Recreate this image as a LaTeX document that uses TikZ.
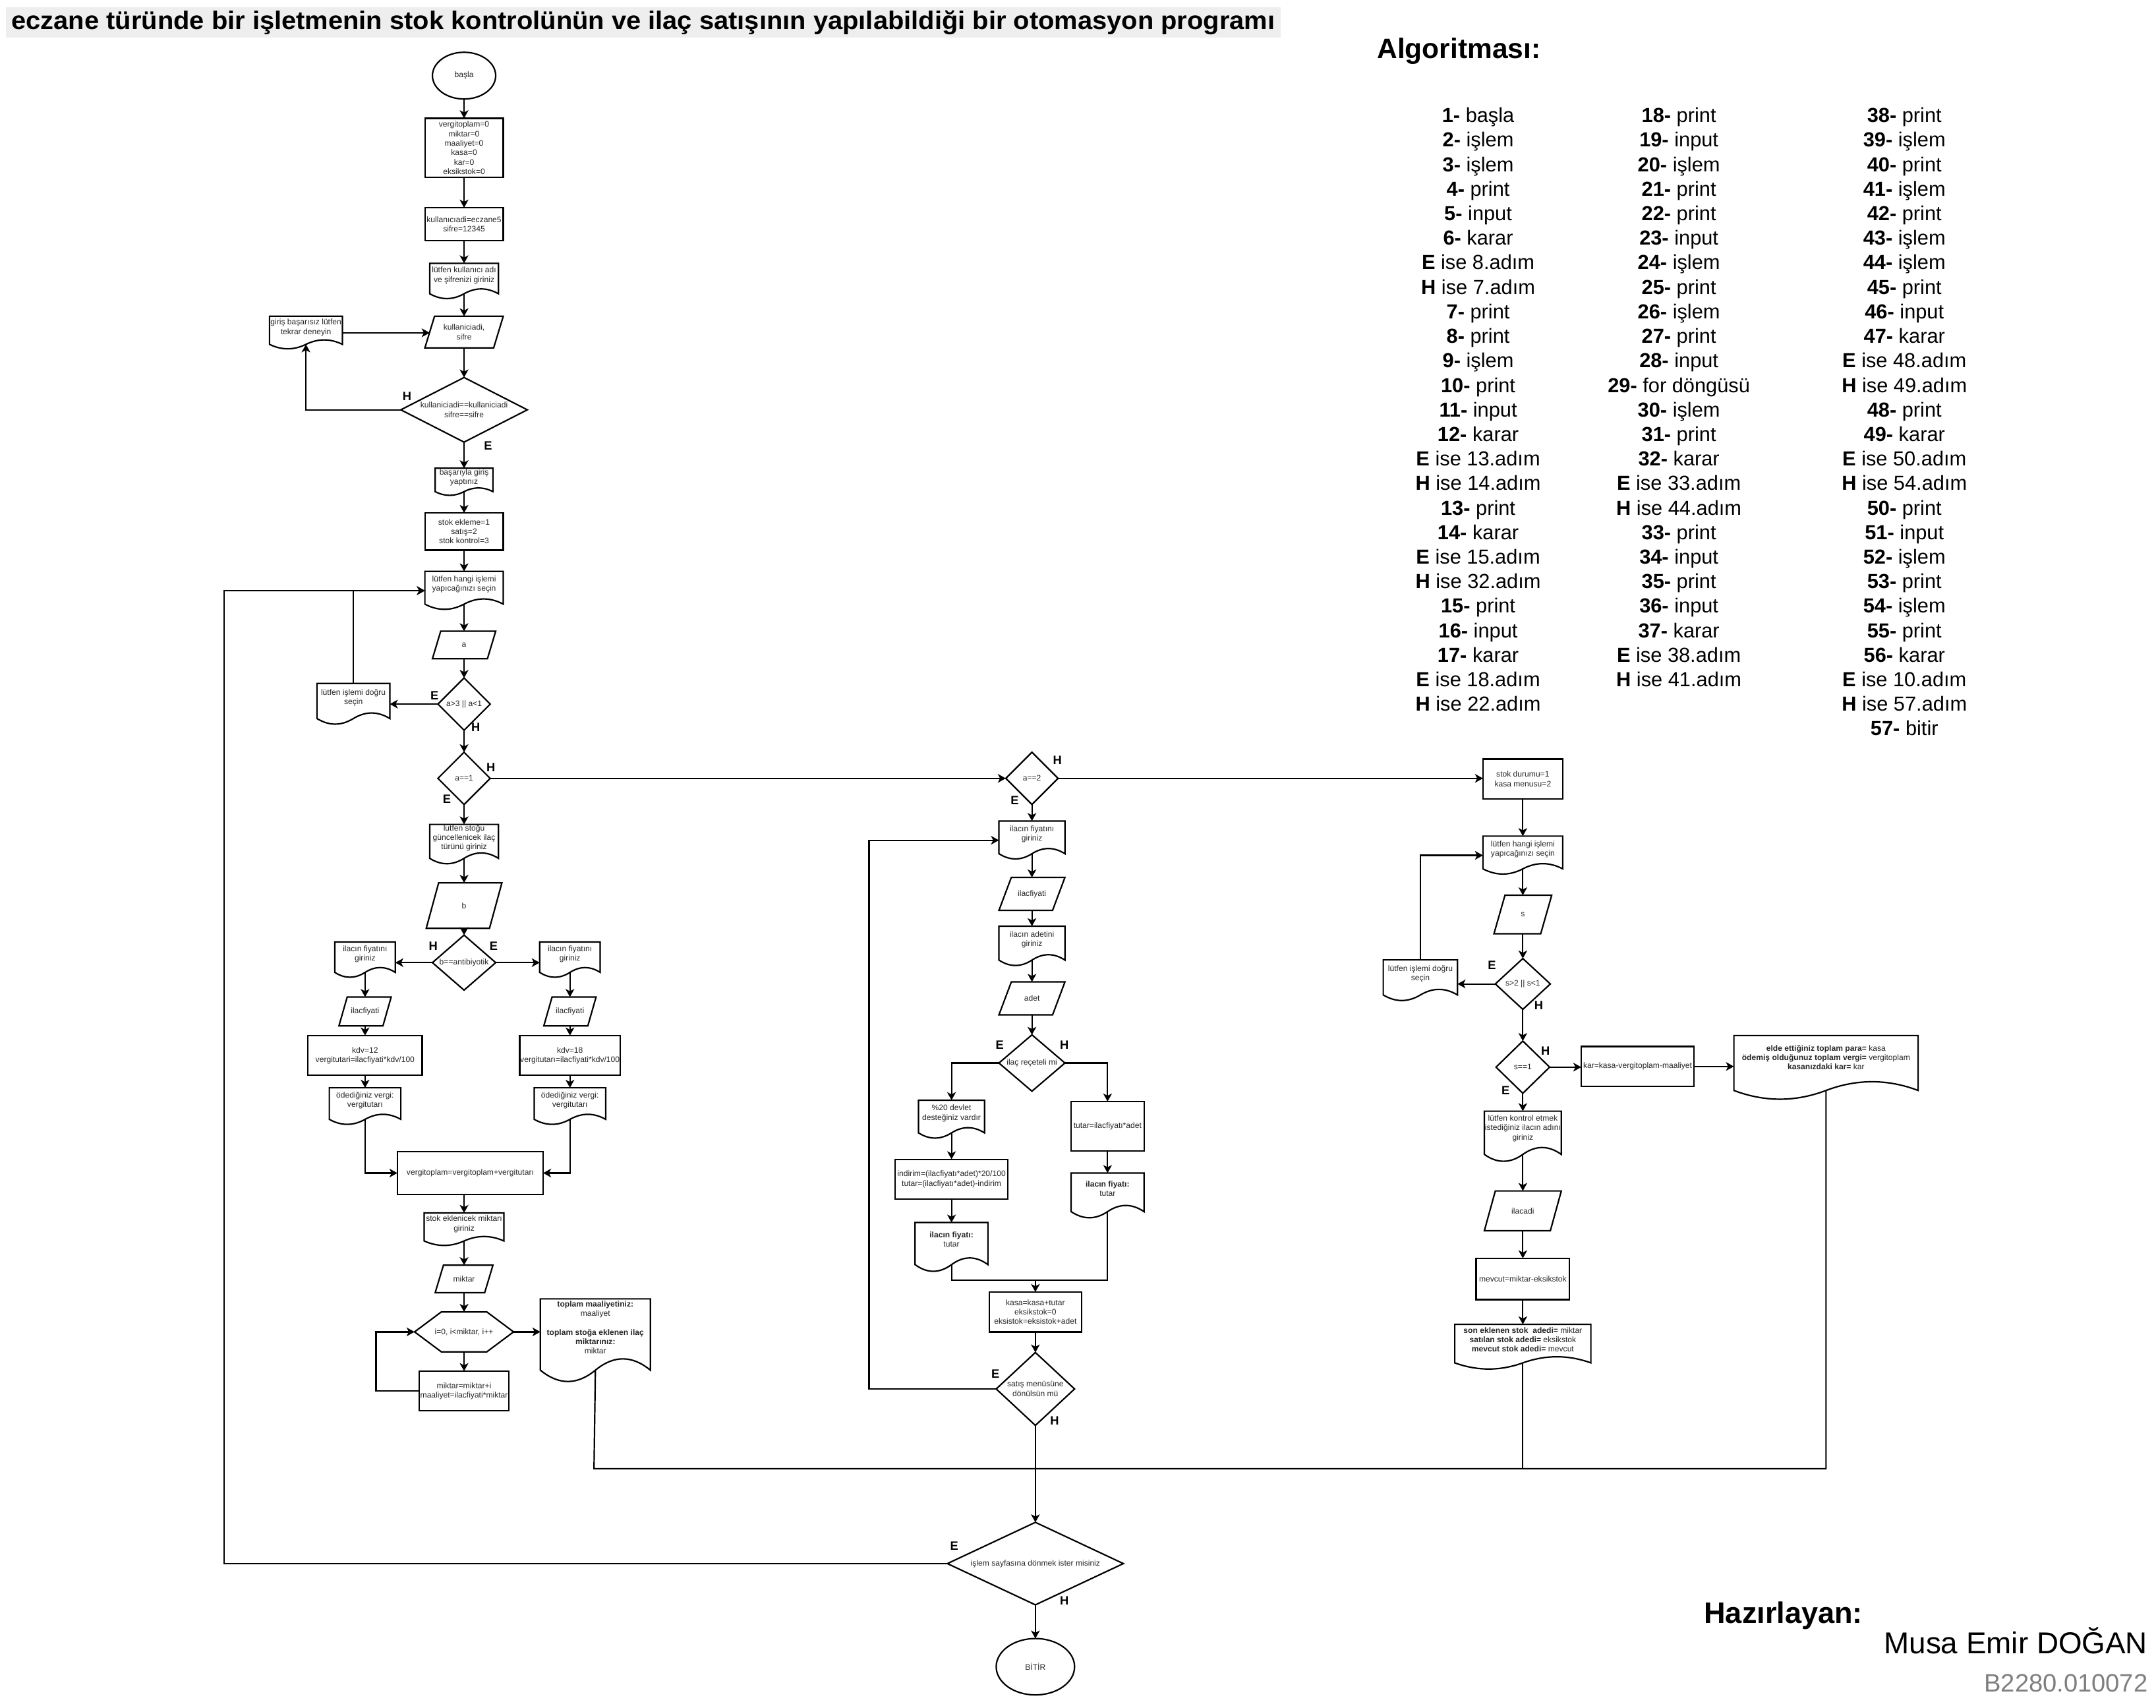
\documentclass[tikz,border=0pt]{standalone}
\usepackage{graphicx}
\usepackage{fontspec}
\setmainfont{Liberation Sans}
\usetikzlibrary{arrows.meta,shapes.geometric,calc}

\definecolor{titlebg}{HTML}{EEEEEE}
\definecolor{idgray}{HTML}{7F7F7F}
\definecolor{inktext}{HTML}{262626}

\newcommand{\shapefont}{\fontsize{3.3}{3.9}\selectfont}
\newcommand{\ynfont}{\fontsize{5}{6}\selectfont\bfseries}
\newcommand{\algofont}{\fontsize{8.4}{10.15}\selectfont}

\tikzset{
  shapeline/.style={draw=black, line width=0.6pt, line join=miter},
  box/.style={draw=none, inner sep=0pt, outer sep=0pt, align=center, font=\shapefont, text=inktext},
  proc/.style={draw=black, line width=0.6pt, inner sep=0pt, outer sep=0pt, align=center, font=\shapefont, text=inktext},
  term/.style={proc, ellipse},
  txt/.style={inner sep=0pt, align=center, font=\shapefont, text=inktext},
  flow/.style={draw=black, line width=0.6pt, -{Stealth[length=3.3pt,width=3.6pt,inset=0.9pt]}},
  link/.style={draw=black, line width=0.6pt},
  yn/.style={font=\ynfont, inner sep=0pt},
  algo/.style={font=\algofont, align=center, inner sep=0pt, anchor=north},
}

% document (wavy bottom): name, cx, cy, w, h, text
\newcommand{\docshape}[6]{%
  \draw[shapeline] ({#2-#4/2},{#3-#5/2}) -- ({#2+#4/2},{#3-#5/2}) -- ({#2+#4/2},{#3+0.35*#5})
    .. controls ({#2+0.3333*#4},{#3+0.17*#5}) and ({#2+0.1667*#4},{#3+0.17*#5}) .. ({#2},{#3+0.35*#5})
    .. controls ({#2-0.1667*#4},{#3+0.53*#5}) and ({#2-0.3333*#4},{#3+0.53*#5}) .. ({#2-#4/2},{#3+0.35*#5}) -- cycle;
  \node[box, minimum width={#4*0.02cm}, minimum height={#5*0.02cm}] (#1) at (#2,#3) {};
  \node[txt] (#1-t) at (#2,{#3-0.16*#5}) {#6};
  \coordinate (#1-b) at (#2,{#3+0.35*#5});
}
% input / output parallelogram: name, cx, cy, w, h, skew, text
\newcommand{\ioshape}[7]{%
  \draw[shapeline] ({#2-#4/2+#6},{#3-#5/2}) -- ({#2+#4/2},{#3-#5/2}) -- ({#2+#4/2-#6},{#3+#5/2}) -- ({#2-#4/2},{#3+#5/2}) -- cycle;
  \node[box, minimum width={#4*0.02cm}, minimum height={#5*0.02cm}] (#1) at (#2,#3) {#7};
  \coordinate (#1-w) at ({#2-#4/2+#6/2},#3);
}
% decision: name, cx, cy, w, h, text
\newcommand{\decshape}[6]{%
  \draw[shapeline] (#2,{#3-#5/2}) -- ({#2+#4/2},#3) -- (#2,{#3+#5/2}) -- ({#2-#4/2},#3) -- cycle;
  \node[box, minimum width={#4*0.02cm}, minimum height={#5*0.02cm}] (#1) at (#2,#3) {#6};
}
% loop (hexagon): name, cx, cy, w, h, text
\newcommand{\loopshape}[6]{%
  \draw[shapeline] ({#2-#4/2},#3) -- ({#2-0.23*#4},{#3-#5/2}) -- ({#2+0.23*#4},{#3-#5/2}) -- ({#2+#4/2},#3)
    -- ({#2+0.23*#4},{#3+#5/2}) -- ({#2-0.23*#4},{#3+#5/2}) -- cycle;
  \node[box, minimum width={#4*0.02cm}, minimum height={#5*0.02cm}] (#1) at (#2,#3) {#6};
}
% process box: name, cx, cy, w, h, text
\newcommand{\procshape}[6]{%
  \node[proc, minimum width={#4*0.02cm}, minimum height={#5*0.02cm}] (#1) at (#2,#3) {#6};
}

\begin{document}
\begin{tikzpicture}[x=0.02cm, y=-0.02cm]
\useasboundingbox (0,0) rectangle (1568,1242);
\fill[white] (0,0) rectangle (1568,1242);

% ---------- title ----------
\node[fill=titlebg, anchor=north west, inner xsep=0.08cm, inner ysep=0pt, minimum height=0.44cm] (title) at (4,5)
  {\resizebox{18.38cm}{\height}{\fontsize{10.5}{12}\selectfont\bfseries eczane türünde bir işletmenin stok kontrolünün ve ilaç satışının yapılabildiği bir otomasyon programı}};

% ---------- login and main menu ----------
\node[term, minimum width={46*0.02cm}, minimum height={34*0.02cm}] (basla) at (337.5,55) {başla};
\procshape{init}{337.5}{107.5}{57}{43}{vergitoplam=0\\miktar=0\\maaliyet=0\\kasa=0\\kar=0\\eksikstok=0}
\procshape{cred}{337.5}{163}{57}{24}{kullanıcıadi=eczane5\\sifre=12345}
\docshape{askcred}{337.5}{204.5}{50}{26}{lütfen kullanıcı adı\\ve şifrenizi giriniz}
\ioshape{readcred}{337.5}{241.5}{57}{23}{7}{kullaniciadi,\\sifre}
\decshape{chk}{337.5}{298}{92}{47}{kullaniciadi==kullaniciadi\\sifre==sifre}
\docshape{fail}{222.5}{242}{53}{24}{giriş başarısız lütfen\\tekrar deneyin}
\docshape{okmsg}{337.5}{350.5}{42}{20}{başarıyla giriş\\yaptınız}
\procshape{menuvars}{337.5}{386.5}{57}{27}{stok ekleme=1\\satış=2\\stok kontrol=3}
\docshape{menu}{337.5}{429.5}{57}{28}{lütfen hangi işlemi\\yapıcağınızı seçin}
\ioshape{ina}{337.5}{469}{46}{20}{6}{a}
\decshape{chka}{337.5}{512}{38}{38}{a>3 || a<1}
\docshape{wrong1}{257}{512}{53}{30}{lütfen işlemi doğru\\seçin}
\decshape{opt1}{337.5}{566}{38}{38}{a==1}

% ---------- stock entry ----------
\docshape{stockask}{337.5}{614}{50}{29}{lutfen stoğu\\güncellenicek ilaç\\türünü giriniz}
\ioshape{inb}{337.5}{658.5}{55}{33}{9}{b}
\decshape{chkb}{337.5}{700}{46}{40}{b==antibiyotik}
\docshape{lprice}{265.5}{698}{44}{26}{ilacın fiyatını\\giriniz}
\docshape{rprice}{414.5}{698}{44}{26}{ilacın fiyatını\\giriniz}
\ioshape{linp}{265.5}{735.5}{38}{21}{6}{ilacfiyati}
\ioshape{rinp}{414.5}{735.5}{38}{21}{6}{ilacfiyati}
\procshape{lkdv}{265.5}{767.5}{83}{29}{kdv=12\\vergitutari=ilacfiyati*kdv/100}
\procshape{rkdv}{414.5}{767.5}{73}{29}{kdv=18\\vergitutarı=ilacfiyati*kdv/100}
\docshape{ltax}{265.5}{804.5}{52}{27}{ödediğiniz vergi:\\vergitutarı}
\docshape{rtax}{414.5}{804.5}{52}{27}{ödediğiniz vergi:\\vergitutarı}
\procshape{vtop}{342}{853}{106}{31}{vergitoplam=vergitoplam+vergitutarı}
\docshape{stockqty}{337.5}{894}{58}{24}{stok eklenicek miktarı\\giriniz}
\ioshape{inm}{337.5}{930}{42}{20}{6}{miktar}
\loopshape{loop}{337.5}{968.5}{72}{29}{i=0, i<miktar, i++}
\procshape{body}{337.5}{1011.5}{65}{29}{miktar=miktar+i\\maaliyet=ilacfiyati*miktar}
\docshape{total}{433}{975}{80}{61}{\textbf{toplam maaliyetiniz:}\\maaliyet\\[3.9pt]\textbf{toplam stoğa eklenen ilaç}\\\textbf{miktarınız:}\\miktar}

% ---------- sale ----------
\decshape{opt2}{750.5}{566}{38}{38}{a==2}
\docshape{sprice}{750.5}{611}{48}{28}{ilacın fiyatını\\giriniz}
\ioshape{sinp}{750.5}{650}{48}{24}{9}{ilacfiyati}
\docshape{sqty}{750.5}{688}{48}{29}{ilacın adetini\\giriniz}
\ioshape{sinq}{750.5}{726}{48}{24}{9}{adet}
\decshape{rx}{750.5}{773}{48}{41}{ilaç reçeteli mi}
\docshape{support}{692}{814}{48}{28}{\%20 devlet\\desteğiniz vardır}
\procshape{disc}{692}{857.5}{82}{29}{indirim=(ilacfiyatı*adet)*20/100\\tutar=(ilacfiyatı*adet)-indirim}
\docshape{lpay}{692}{907}{53}{36}{\textbf{ilacın fiyatı:}\\tutar}
\procshape{calcpay}{805.5}{819}{53}{36}{tutar=ilacfiyatı*adet}
\docshape{rpay}{805.5}{869.5}{53}{33}{\textbf{ilacın fiyatı:}\\tutar}
\coordinate (mrg) at (753,931);
\procshape{kasa}{753}{954}{67}{29}{kasa=kasa+tutar\\eksikstok=0\\eksistok=eksistok+adet}
\decshape{again}{753}{1010}{57}{53}{satış menüsüne\\dönülsün mü}
\coordinate (sloop) at (632,1010);

% ---------- stock / cash control ----------
\procshape{ctrlvars}{1107.5}{566.5}{58}{29}{stok durumu=1\\kasa menusu=2}
\docshape{menu2}{1107.5}{622}{58}{28}{lütfen hangi işlemi\\yapıcağınızı seçin}
\ioshape{ins}{1107.5}{665}{42}{28}{8}{s}
\decshape{chks}{1107.5}{715.5}{40}{37}{s>2 || s<1}
\docshape{wrong2}{1033}{713}{54}{30}{lütfen işlemi doğru\\seçin}
\decshape{opt3}{1107.5}{776}{39}{38}{s==1}
\procshape{profit}{1191}{775.5}{82}{29}{kar=kasa-vergitoplam-maaliyet}
\docshape{report}{1328}{776.5}{134}{47}{\textbf{elde ettiğiniz toplam para=} kasa\\\textbf{ödemiş olduğunuz toplam vergi=} vergitoplam\\\textbf{kasanızdaki kar=} kar}
\docshape{askname}{1107.5}{826.5}{56}{37}{lütfen kontrol etmek\\istediğiniz ilacın adını\\giriniz}
\ioshape{inname}{1107.5}{880.5}{56}{29}{8}{ilacadi}
\procshape{stockcalc}{1107.5}{930}{68}{30}{mevcut=miktar-eksikstok}
\docshape{stockrep}{1107.5}{979.5}{99}{33}{\textbf{son eklenen stok~ adedi=} miktar\\\textbf{satılan stok adedi=} eksikstok\\\textbf{mevcut stok adedi=} mevcut}

% ---------- end ----------
\decshape{ask}{753}{1137}{128}{60}{işlem sayfasına dönmek ister misiniz}
\node[term, minimum width={57*0.02cm}, minimum height={41*0.02cm}] (bitir) at (753,1212) {BİTİR};
\coordinate (retx) at (163,1137);
\coordinate (busL) at (432,1068);
\coordinate (busR) at (1328,1068);
\coordinate (loopx) at (273.5,1011.5);

% ---------- connectors: login ----------
\draw[flow] (basla) -- (init);
\draw[flow] (init) -- (cred);
\draw[flow] (cred) -- (askcred);
\draw[flow] (askcred-b) -- (readcred);
\draw[flow] (readcred) -- (chk);
\draw[flow] (chk.west) -| (fail-b);
\draw[flow] (fail.east) -- (fail.east -| readcred-w);
\draw[flow] (chk) -- (okmsg);
\draw[flow] (okmsg-b) -- (menuvars);
\draw[flow] (menuvars) -- (menu);
\draw[flow] (menu-b) -- (ina);
\draw[flow] (ina) -- (chka);
\draw[flow] (chka.west) -- (chka.west -| wrong1.east);
\draw[flow] (wrong1.north) |- (menu.west);
\draw[flow] (ask.west) -- (retx) |- (menu.west);
\draw[flow] (chka) -- (opt1);
\draw[flow] (opt1.east) -- (opt1.east -| opt2.west);
\draw[flow] (opt2.east) -- (opt2.east -| ctrlvars.west);

% ---------- connectors: stock entry ----------
\draw[flow] (opt1) -- (stockask);
\draw[flow] (stockask-b) -- (inb);
\draw[flow] (inb) -- (chkb);
\draw[flow] (chkb.west) -- (chkb.west -| lprice.east);
\draw[flow] (chkb.east) -- (chkb.east -| rprice.west);
\draw[flow] (lprice-b) -- (linp);
\draw[flow] (rprice-b) -- (rinp);
\draw[flow] (linp) -- (lkdv);
\draw[flow] (rinp) -- (rkdv);
\draw[flow] (lkdv) -- (ltax);
\draw[flow] (rkdv) -- (rtax);
\draw[flow] (ltax-b) |- (vtop.west);
\draw[flow] (rtax-b) |- (vtop.east);
\draw[flow] (vtop.south -| stockqty.north) -- (stockqty);
\draw[flow] (stockqty-b) -- (inm);
\draw[flow] (inm) -- (loop);
\draw[flow] (loop) -- (body);
\draw[flow] (body.west) -- (loopx) |- (loop.west);
\draw[flow] (loop.east) -- (loop.east -| total.west);

% ---------- connectors: sale ----------
\draw[flow] (opt2) -- (sprice);
\draw[flow] (sprice-b) -- (sinp);
\draw[flow] (sinp) -- (sqty);
\draw[flow] (sqty-b) -- (sinq);
\draw[flow] (sinq) -- (rx);
\draw[flow] (rx.west) -| (support.north);
\draw[flow] (rx.east) -| (calcpay.north);
\draw[flow] (support-b) -- (disc);
\draw[flow] (disc) -- (lpay);
\draw[flow] (calcpay) -- (rpay);
\draw[link] (lpay-b) |- (mrg);
\draw[link] (rpay-b) |- (mrg);
\draw[flow] (mrg) -- (kasa);
\draw[flow] (kasa) -- (again);
\draw[flow] (again.west) -- (sloop) |- (sprice.west);

% ---------- connectors: control ----------
\draw[flow] (ctrlvars) -- (menu2);
\draw[flow] (menu2-b) -- (ins);
\draw[flow] (ins) -- (chks);
\draw[flow] (chks.west) -- (chks.west -| wrong2.east);
\draw[flow] (wrong2.north) |- (menu2.west);
\draw[flow] (chks) -- (opt3);
\draw[flow] (opt3.east) -- (opt3.east -| profit.west);
\draw[flow] (profit.east) -- (profit.east -| report.west);
\draw[flow] (opt3) -- (askname);
\draw[flow] (askname-b) -- (inname);
\draw[flow] (inname) -- (stockcalc);
\draw[flow] (stockcalc) -- (stockrep);

% ---------- connectors: common end ----------
\draw[link] (total-b) -- (busL) -- (busR) -- (report-b);
\draw[link] (stockrep-b) -- (stockrep-b |- busL);
\draw[flow] (again) -- (ask);
\draw[flow] (ask) -- (bitir);

% ---------- branch labels ----------
\node[yn] (l1) at (296,288) {H};
\node[yn] (l2) at (355,324) {E};
\node[yn] (l3) at (316,506) {E};
\node[yn] (l4) at (346,529) {H};
\node[yn] (l5) at (357,558) {H};
\node[yn] (l6) at (325,581) {E};
\node[yn] (l7) at (769,553) {H};
\node[yn] (l8) at (738,582) {E};
\node[yn] (l9) at (315,688) {H};
\node[yn] (l10) at (359,688) {E};
\node[yn] (l11) at (727,760) {E};
\node[yn] (l12) at (774,760) {H};
\node[yn] (l13) at (724,999) {E};
\node[yn] (l14) at (767,1033) {H};
\node[yn] (l15) at (1085,702) {E};
\node[yn] (l16) at (1119,731) {H};
\node[yn] (l17) at (1124,764) {H};
\node[yn] (l18) at (1095,793) {E};
\node[yn] (l19) at (694,1124) {E};
\node[yn] (l20) at (774,1164) {H};

% ---------- algorithm listing ----------
\node[font=\fontsize{11.6}{14}\selectfont\bfseries, inner sep=0pt] (algtitle) at (1061,37) {Algoritması:};
\node[algo] (algA) at (1075,78) {%
\textbf{1-} başla\\\textbf{2-} işlem\\\textbf{3-} işlem\\\textbf{4-} print\\\textbf{5-} input\\\textbf{6-} karar\\
\textbf{E} ise 8.adım\\\textbf{H} ise 7.adım\\\textbf{7-} print\\\textbf{8-} print\\\textbf{9-} işlem\\\textbf{10-} print\\
\textbf{11-} input\\\textbf{12-} karar\\\textbf{E} ise 13.adım\\\textbf{H} ise 14.adım\\\textbf{13-} print\\\textbf{14-} karar\\
\textbf{E} ise 15.adım\\\textbf{H} ise 32.adım\\\textbf{15-} print\\\textbf{16-} input\\\textbf{17-} karar\\
\textbf{E} ise 18.adım\\\textbf{H} ise 22.adım};
\node[algo] (algB) at (1221,78) {%
\textbf{18-} print\\\textbf{19-} input\\\textbf{20-} işlem\\\textbf{21-} print\\\textbf{22-} print\\\textbf{23-} input\\
\textbf{24-} işlem\\\textbf{25-} print\\\textbf{26-} işlem\\\textbf{27-} print\\\textbf{28-} input\\\textbf{29-} for döngüsü\\
\textbf{30-} işlem\\\textbf{31-} print\\\textbf{32-} karar\\\textbf{E} ise 33.adım\\\textbf{H} ise 44.adım\\\textbf{33-} print\\
\textbf{34-} input\\\textbf{35-} print\\\textbf{36-} input\\\textbf{37-} karar\\\textbf{E} ise 38.adım\\\textbf{H} ise 41.adım};
\node[algo] (algC) at (1385,78) {%
\textbf{38-} print\\\textbf{39-} işlem\\\textbf{40-} print\\\textbf{41-} işlem\\\textbf{42-} print\\\textbf{43-} işlem\\
\textbf{44-} işlem\\\textbf{45-} print\\\textbf{46-} input\\\textbf{47-} karar\\\textbf{E} ise 48.adım\\\textbf{H} ise 49.adım\\
\textbf{48-} print\\\textbf{49-} karar\\\textbf{E} ise 50.adım\\\textbf{H} ise 54.adım\\\textbf{50-} print\\\textbf{51-} input\\
\textbf{52-} işlem\\\textbf{53-} print\\\textbf{54-} işlem\\\textbf{55-} print\\\textbf{56-} karar\\\textbf{E} ise 10.adım\\
\textbf{H} ise 57.adım\\\textbf{57-} bitir};

% ---------- author ----------
\node[font=\fontsize{12.3}{14}\selectfont\bfseries, inner sep=0pt] (author) at (1297,1175) {Hazırlayan:};
\node[font=\fontsize{12.5}{14}\selectfont, inner sep=0pt] (name) at (1466,1193) {Musa Emir DOĞAN};
\node[font=\fontsize{10.4}{12}\selectfont, text=idgray, inner sep=0pt] (number) at (1502.5,1224) {B2280.010072};
\end{tikzpicture}
\end{document}
